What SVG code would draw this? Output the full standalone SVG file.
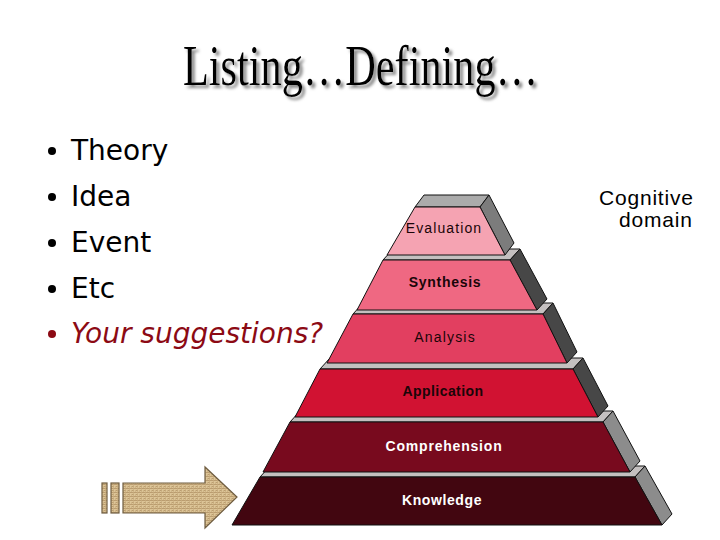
<svg xmlns="http://www.w3.org/2000/svg" width="720" height="540" viewBox="0 0 720 540">
<defs>
  <filter id="shadow" x="-5%" y="-30%" width="115%" height="170%">
    <feGaussianBlur in="SourceAlpha" stdDeviation="1.6" result="b"/>
    <feOffset in="b" dx="3" dy="3" result="o"/>
    <feFlood flood-color="#8a8a8a"/>
    <feComposite in2="o" operator="in" result="s"/>
    <feMerge><feMergeNode in="s"/><feMergeNode in="SourceGraphic"/></feMerge>
  </filter>
  <pattern id="burlap" width="4" height="4" patternUnits="userSpaceOnUse">
    <rect width="4" height="4" fill="#dcc497"/>
    <path d="M0 0.5H4M0 2.5H2" stroke="#b39366" stroke-width="0.8"/>
    <path d="M1.5 0V4M3.5 2V4" stroke="#c8ad7e" stroke-width="0.7"/>
  </pattern>
  <style>
    .title{font-family:"Liberation Serif","DejaVu Serif",serif;font-size:58px;}
    .bul{font-family:"DejaVu Sans","Liberation Sans",sans-serif;font-size:28px;fill:#000;}
    .red{fill:#8c0a14;font-style:italic;}
    .lbl{font-family:"Liberation Sans",Arial,sans-serif;font-size:14px;text-anchor:middle;}
    .cog{font-family:"Liberation Sans",Arial,sans-serif;font-size:21px;fill:#000;letter-spacing:0.8px;}
    .edge{stroke:#111;stroke-width:1;stroke-linejoin:round;}
    .top{fill:#c4c0c0;}
    .sideD{fill:#474747;}
    .sideL{fill:#8c8c8c;}
  </style>
</defs>
<rect width="720" height="540" fill="#fff"/>

<g id="title">
  <text class="title" x="183" y="85" textLength="355" lengthAdjust="spacingAndGlyphs" fill="#000" filter="url(#shadow)">Listing…Defining…</text>
</g>

<g id="bullets">
  <circle cx="52" cy="151" r="4" fill="#000"/>
  <text class="bul" x="71" y="160">Theory</text>
  <circle cx="52" cy="197" r="4" fill="#000"/>
  <text class="bul" x="71" y="206">Idea</text>
  <circle cx="52" cy="243" r="4" fill="#000"/>
  <text class="bul" x="71" y="252">Event</text>
  <circle cx="52" cy="289" r="4" fill="#000"/>
  <text class="bul" x="71" y="298">Etc</text>
  <circle cx="52" cy="334" r="4" fill="#8c0a14"/>
  <text class="bul red" x="71" y="343">Your suggestions?</text>
</g>

<g id="knowledge">
  <polygon class="top edge" points="260,477 635,477 645,466 270,466"/>
  <polygon class="sideL edge" points="635,477 645,466 672,514 662,525"/>
  <polygon class="edge" fill="#420610" points="260,477 635,477 662,525 232,525"/>
  <text class="lbl" x="442" y="505" fill="#fff" font-weight="bold" letter-spacing="0.6">Knowledge</text>
</g>

<g id="comprehension">
  <polygon class="top edge" points="290,422 603,422 613,411 300,411"/>
  <polygon class="sideL edge" points="603,422 613,411 640,461 630,472"/>
  <polygon class="edge" fill="#780a1e" points="290,422 603,422 630,472 263,472"/>
  <text class="lbl" x="444" y="451" fill="#fff" font-weight="bold" letter-spacing="0.8">Comprehension</text>
</g>

<g id="application">
  <polygon class="top edge" points="320,369 573,369 583,358 330,358"/>
  <polygon class="sideD edge" points="573,369 583,358 608,406 598,417"/>
  <polygon class="edge" fill="#d11232" points="320,369 573,369 598,417 295,417"/>
  <text class="lbl" x="443" y="396" fill="#1a0508" font-weight="bold" letter-spacing="0.45">Application</text>
</g>

<g id="analysis">
  <polygon class="top edge" points="353,314 543,314 553,303 363,303"/>
  <polygon class="sideD edge" points="543,314 553,303 577,352 567,363"/>
  <polygon class="edge" fill="#e23f60" points="353,314 543,314 567,363 327,363"/>
  <text class="lbl" x="445" y="342" fill="#1a0508" letter-spacing="1.2">Analysis</text>
</g>

<g id="synthesis">
  <polygon class="top edge" points="383,260 510,260 520,249 393,249"/>
  <polygon class="sideD edge" points="510,260 520,249 547,299 537,310"/>
  <polygon class="edge" fill="#ef6882" points="383,260 510,260 537,310 357,310"/>
  <text class="lbl" x="445" y="287" fill="#1a0508" font-weight="bold" letter-spacing="0.7">Synthesis</text>
</g>

<g id="evaluation">
  <polygon class="edge" fill="#ababab" points="415,207 480,207 489,195 424,195"/>
  <polygon class="edge" fill="#7c7c7c" points="480,207 489,195 514,243 505,255"/>
  <polygon class="edge" fill="#f5a3b2" points="415,207 480,207 505,255 387,255"/>
  <text class="lbl" x="444" y="233" fill="#1a0508" letter-spacing="1.1">Evaluation</text>
</g>

<g id="cognitive-domain">
  <text class="cog" x="599" y="205">Cognitive</text>
  <text class="cog" x="619" y="227">domain</text>
</g>

<g id="arrow" stroke="#6e5c40" stroke-width="1.2" fill="url(#burlap)">
  <rect x="102" y="483" width="5" height="30"/>
  <rect x="111" y="483" width="8" height="30"/>
  <polygon points="123,483 205,483 205,467 237,497 205,528 205,513 123,513"/>
</g>
</svg>
